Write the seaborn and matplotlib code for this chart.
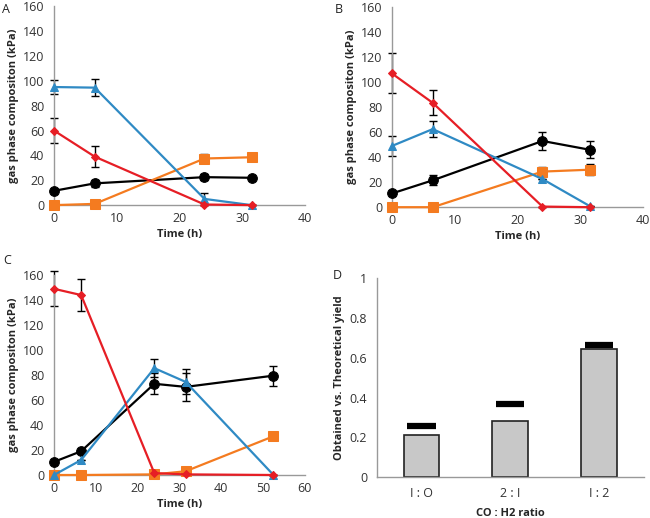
import numpy as np
import pandas as pd
import seaborn as sns
import matplotlib.pyplot as plt

# time points (h)
time_ab = [0, 6.5, 24, 31.5]
time_c = [0, 6.5, 24, 31.5, 52.5]

# panel A
a_blue = [95, 94.5, 5, 0]
a_blue_err = [6, 7, 5, 0]
a_red = [60, 39, 0.5, 0]
a_red_err = [10, 8.5, 0, 0]
a_black = [11.5, 17.5, 22.5, 22]
a_black_err = [0, 3, 2.5, 0]
a_orange = [0, 1, 37.5, 38.5]
a_orange_err = [0, 0, 4, 0]

# panel B
b_blue = [49, 62.5, 22.5, 1]
b_blue_err = [8, 6.5, 0, 0]
b_red = [107, 83.5, 0.5, 0]
b_red_err = [16, 10, 0, 0]
b_black = [11, 21.5, 53, 46]
b_black_err = [0, 4, 7, 7]
b_orange = [0, 0, 28.5, 30]
b_orange_err = [0, 0, 3.5, 4.5]

# panel C
c_blue = [0, 12, 85.5, 74.5, 0]
c_blue_err = [0, 0, 7, 10, 0]
c_red = [149, 144, 1.5, 0.5, 0]
c_red_err = [14, 13, 0, 0, 0]
c_black = [10.5, 19, 73, 70.5, 79.5]
c_black_err = [0, 0, 8.5, 11, 8]
c_orange = [0, 0, 0.5, 3, 31]
c_orange_err = [0, 0, 0, 0, 3]

# panel D
ratios = ['I : O', '2 : I', 'I : 2']
obtained = [0.21, 0.28, 0.645]
theoretical = [0.255, 0.365, 0.665]

colors = {'blue': '#2f8ac4', 'red': '#e61e25', 'black': '#000000', 'orange': '#f47b20'}
markers = {'blue': '^', 'red': 'D', 'black': 'o', 'orange': 's'}
msize = {'blue': 6, 'red': 4.5, 'black': 7, 'orange': 6.5}

sns.set_style('white')
plt.rcParams['font.family'] = ['Open Sans', 'DejaVu Sans']

fig = plt.figure(figsize=(6.5, 5.18), dpi=100)


def time_panel(rect, t, series, xmax, xstep, label):
    ax = fig.add_axes(rect)
    rows = []
    for name, (vals, errs) in series.items():
        for ti, v, e in zip(t, vals, errs):
            rows.append({'time': ti, 'value': v, 'err': e, 'series': name})
    df = pd.DataFrame(rows)
    for name in ['black', 'orange', 'blue', 'red']:
        sub = df[df['series'] == name]
        ax.errorbar(sub['time'], sub['value'], yerr=sub['err'], fmt='none',
                    ecolor='black', elinewidth=1, capsize=3, capthick=1, zorder=2)
        sns.lineplot(data=sub, x='time', y='value', ax=ax, color=colors[name],
                     marker=markers[name], markersize=msize[name],
                     markeredgecolor=colors[name], linewidth=1.6, zorder=3)
    ax.set_xlim(0, xmax)
    ax.set_ylim(0, 160)
    ax.set_xticks(np.arange(0, xmax + 1, xstep))
    ax.set_yticks(np.arange(0, 161, 20))
    ax.set_xlabel('Time (h)', fontsize=8, fontweight='bold', labelpad=3)
    ax.set_ylabel('gas phase compositon (kPa)', fontsize=8, fontweight='bold', labelpad=3)
    ax.tick_params(direction='in', length=3, width=0.8, color='#888888',
                   labelsize=9, labelcolor='#333333', pad=5)
    ax.tick_params(axis='y', pad=7)
    for s in ['top', 'right']:
        ax.spines[s].set_visible(False)
    for s in ['left', 'bottom']:
        ax.spines[s].set_color('#999999')
        ax.spines[s].set_linewidth(1)
    for a in ax.lines + ax.collections:
        a.set_clip_on(False)
    fig.text(label[0], label[1], label[2], fontsize=9, color='#222222', va='top')
    return ax


time_panel([0.083, 0.604, 0.386, 0.384], time_ab,
           {'blue': (a_blue, a_blue_err), 'red': (a_red, a_red_err),
            'black': (a_black, a_black_err), 'orange': (a_orange, a_orange_err)},
           40, 10, (0.003, 0.994, 'A'))
time_panel([0.603, 0.600, 0.386, 0.386], time_ab,
           {'blue': (b_blue, b_blue_err), 'red': (b_red, b_red_err),
            'black': (b_black, b_black_err), 'orange': (b_orange, b_orange_err)},
           40, 10, (0.515, 0.994, 'B'))
time_panel([0.083, 0.083, 0.386, 0.386], time_c,
           {'blue': (c_blue, c_blue_err), 'red': (c_red, c_red_err),
            'black': (c_black, c_black_err), 'orange': (c_orange, c_orange_err)},
           60, 10, (0.005, 0.51, 'C'))

# panel D
axd = fig.add_axes([0.580, 0.079, 0.41, 0.384])
dfd = pd.DataFrame({'ratio': ratios, 'obtained': obtained, 'theoretical': theoretical})
sns.barplot(data=dfd, x='ratio', y='obtained', ax=axd, color='#c8c8c8',
            edgecolor='#222222', linewidth=1.2, width=0.4, saturation=1)
for i, v in enumerate(dfd['theoretical']):
    axd.hlines(v, i - 0.16, i + 0.16, color='black', linewidth=4.5)
axd.set_xlim(-0.5, 2.5)
axd.set_ylim(0, 1)
axd.set_yticks([0, 0.2, 0.4, 0.6, 0.8, 1])
axd.set_yticklabels(['0', '0.2', '0.4', '0.6', '0.8', '1'])
axd.set_xlabel('CO : H2 ratio', fontsize=8, fontweight='bold', labelpad=6)
axd.set_ylabel('Obtained vs. Theoretical yield', fontsize=8, fontweight='bold', labelpad=3)
axd.tick_params(length=0, labelsize=9, labelcolor='#333333', pad=7)
for s in ['top', 'right']:
    axd.spines[s].set_visible(False)
for s in ['left', 'bottom']:
    axd.spines[s].set_color('#999999')
    axd.spines[s].set_linewidth(1)
fig.text(0.512, 0.48, 'D', fontsize=9, color='#222222', va='top')

fig.savefig('out.png', dpi=100)
